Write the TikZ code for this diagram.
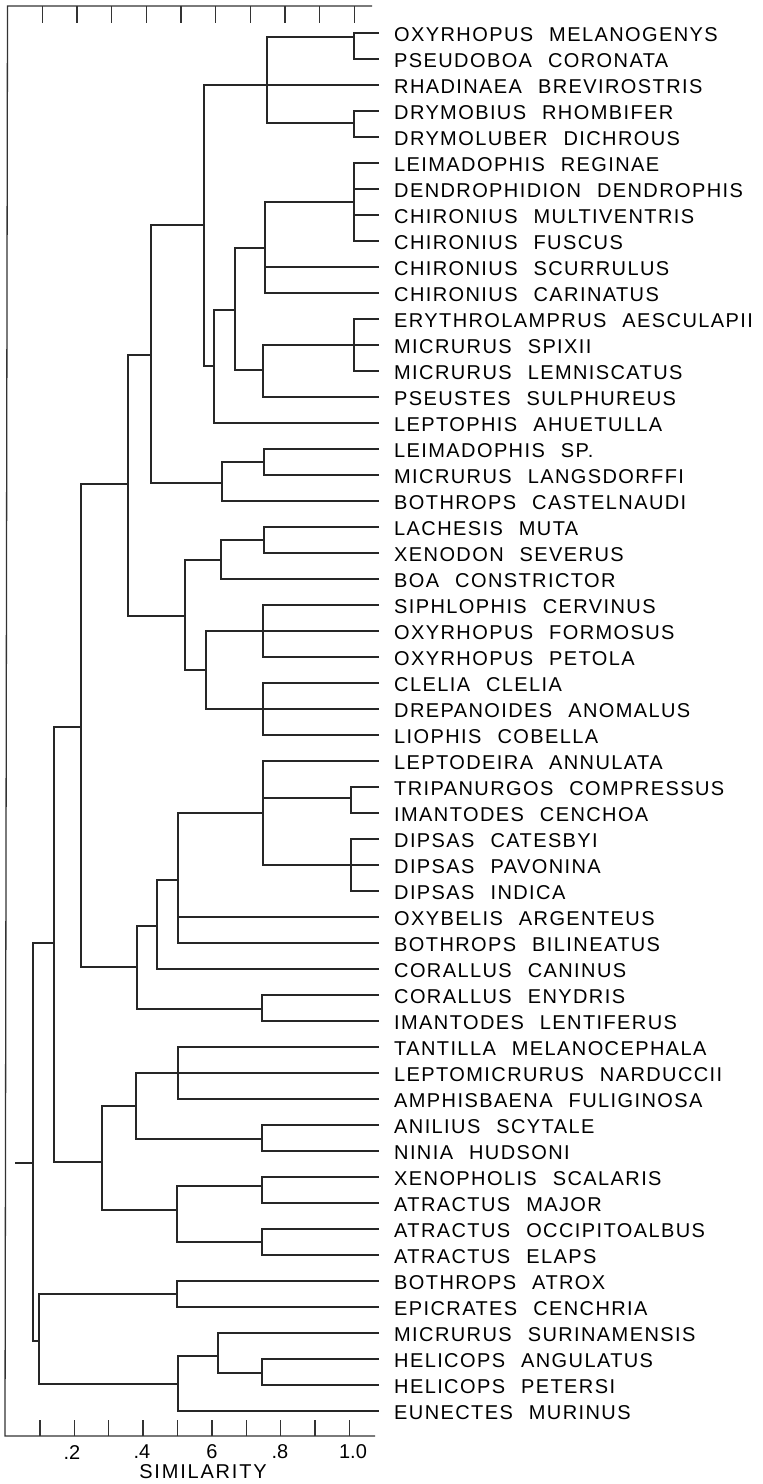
\documentclass[tikz,border=0pt]{standalone}
\usepackage{fontspec}
\setmainfont{Liberation Sans}
\usetikzlibrary{positioning}
\newcommand{\leaffont}{\fontsize{20}{24}\selectfont\addfontfeature{LetterSpace=7}\spaceskip 0.8em\relax}
\newcommand{\axfont}{\fontsize{20}{24}\selectfont}

\begin{document}
\begin{tikzpicture}[
    x=1pt, y=-1pt,
    node distance=15pt,
    branch/.style={line width=1.3pt, draw=black!85},
    axisline/.style={line width=1.3pt, draw=black!80},
    leaf/.style={inner sep=0pt, font=\leaffont, text=black},
    ticklab/.style={inner sep=0pt, font=\axfont, text=black}
]
    \useasboundingbox [fill=white] (0,0) rectangle (763,1484);

    \foreach \name [count=\i] in {OXYRHOPUS MELANOGENYS, PSEUDOBOA CORONATA, RHADINAEA BREVIROSTRIS,
        DRYMOBIUS RHOMBIFER, DRYMOLUBER DICHROUS, LEIMADOPHIS REGINAE, DENDROPHIDION DENDROPHIS,
        CHIRONIUS MULTIVENTRIS, CHIRONIUS FUSCUS, CHIRONIUS SCURRULUS, CHIRONIUS CARINATUS,
        ERYTHROLAMPRUS AESCULAPII, MICRURUS SPIXII, MICRURUS LEMNISCATUS, PSEUSTES SULPHUREUS,
        LEPTOPHIS AHUETULLA, LEIMADOPHIS SP., MICRURUS LANGSDORFFI, BOTHROPS CASTELNAUDI,
        LACHESIS MUTA, XENODON SEVERUS, BOA CONSTRICTOR, SIPHLOPHIS CERVINUS, OXYRHOPUS FORMOSUS,
        OXYRHOPUS PETOLA, CLELIA CLELIA, DREPANOIDES ANOMALUS, LIOPHIS COBELLA,
        LEPTODEIRA ANNULATA, TRIPANURGOS COMPRESSUS, IMANTODES CENCHOA, DIPSAS CATESBYI,
        DIPSAS PAVONINA, DIPSAS INDICA, OXYBELIS ARGENTEUS, BOTHROPS BILINEATUS, CORALLUS CANINUS,
        CORALLUS ENYDRIS, IMANTODES LENTIFERUS, TANTILLA MELANOCEPHALA, LEPTOMICRURUS NARDUCCII,
        AMPHISBAENA FULIGINOSA, ANILIUS SCYTALE, NINIA HUDSONI, XENOPHOLIS SCALARIS, ATRACTUS MAJOR,
        ATRACTUS OCCIPITOALBUS, ATRACTUS ELAPS, BOTHROPS ATROX, EPICRATES CENCHRIA,
        MICRURUS SURINAMENSIS, HELICOPS ANGULATUS, HELICOPS PETERSI, EUNECTES MURINUS} {
        \coordinate (e\i) at (379, {33+(\i-1)*26});
        \node [leaf, right=15pt of e\i, yshift=-2pt] (l\i) {\name};
    }

    \coordinate (nA) at (354,37);
    \coordinate (nD) at (354,123);
    \coordinate (nB) at (267,85);
    \coordinate (nF) at (354,202);
    \coordinate (nG) at (265,248);
    \coordinate (nH) at (354,345);
    \coordinate (nI) at (263,370);
    \coordinate (nJ) at (235,310);
    \coordinate (nK) at (214,366);
    \coordinate (nC) at (204,225);
    \coordinate (nL) at (264,462);
    \coordinate (nM) at (222,483);
    \coordinate (nN) at (151,355);
    \coordinate (nO) at (264,540);
    \coordinate (nP) at (221,560);
    \coordinate (nQ) at (263,631);
    \coordinate (nR) at (263,709);
    \coordinate (nS) at (206,670);
    \coordinate (nT) at (185,616);
    \coordinate (nU) at (128,484);
    \coordinate (nV) at (351,798);
    \coordinate (nX) at (351,865);
    \coordinate (nW) at (263,813);
    \coordinate (nY) at (178,880);
    \coordinate (nZ) at (157,926);
    \coordinate (nAA) at (262,1009);
    \coordinate (nBB) at (137,967);
    \coordinate (nMM) at (81,727);
    \coordinate (nCC) at (178,1073);
    \coordinate (nAB) at (262,1139);
    \coordinate (nDD) at (136,1106);
    \coordinate (nEE) at (262,1186);
    \coordinate (nFF) at (262,1242);
    \coordinate (nGG) at (177,1210);
    \coordinate (nHH) at (102,1162);
    \coordinate (nII) at (54,943);
    \coordinate (nJJ) at (177,1294);
    \coordinate (nNN) at (262,1373);
    \coordinate (nOO) at (218,1356);
    \coordinate (nPP) at (178,1384);
    \coordinate (nKK) at (39,1341);
    \coordinate (root) at (33,1163);
    \coordinate (stub) at (15,1163);

    \draw [branch] (nA) |- (e1) (nA) |- (e2);
    \draw [branch] (nD) |- (e4) (nD) |- (e5);
    \draw [branch] (nB) |- (nA) (nB) |- (e3) (nB) |- (nD);
    \draw [branch] (nF) |- (e6) (nF) |- (e7) (nF) |- (e8) (nF) |- (e9);
    \draw [branch] (nG) |- (nF) (nG) |- (e10) (nG) |- (e11);
    \draw [branch] (nH) |- (e12) (nH) |- (e13) (nH) |- (e14);
    \draw [branch] (nI) |- (nH) (nI) |- (e15);
    \draw [branch] (nJ) |- (nG) (nJ) |- (nI);
    \draw [branch] (nK) |- (nJ) (nK) |- (e16);
    \draw [branch] (nC) |- (nB) (nC) |- (nK);
    \draw [branch] (nL) |- (e17) (nL) |- (e18);
    \draw [branch] (nM) |- (nL) (nM) |- (e19);
    \draw [branch] (nN) |- (nC) (nN) |- (nM);
    \draw [branch] (nO) |- (e20) (nO) |- (e21);
    \draw [branch] (nP) |- (nO) (nP) |- (e22);
    \draw [branch] (nQ) |- (e23) (nQ) |- (e24) (nQ) |- (e25);
    \draw [branch] (nR) |- (e26) (nR) |- (e27) (nR) |- (e28);
    \draw [branch] (nS) |- (nQ) (nS) |- (nR);
    \draw [branch] (nT) |- (nP) (nT) |- (nS);
    \draw [branch] (nU) |- (nN) (nU) |- (nT);
    \draw [branch] (nV) |- (e30) (nV) |- (e31);
    \draw [branch] (nX) |- (e32) (nX) |- (e33) (nX) |- (e34);
    \draw [branch] (nW) |- (e29) (nW) |- (nV) (nW) |- (nX);
    \draw [branch] (nY) |- (nW) (nY) |- (e35) (nY) |- (e36);
    \draw [branch] (nZ) |- (nY) (nZ) |- (e37);
    \draw [branch] (nAA) |- (e38) (nAA) |- (e39);
    \draw [branch] (nBB) |- (nZ) (nBB) |- (nAA);
    \draw [branch] (nMM) |- (nU) (nMM) |- (nBB);
    \draw [branch] (nCC) |- (e40) (nCC) |- (e41) (nCC) |- (e42);
    \draw [branch] (nAB) |- (e43) (nAB) |- (e44);
    \draw [branch] (nDD) |- (nCC) (nDD) |- (nAB);
    \draw [branch] (nEE) |- (e45) (nEE) |- (e46);
    \draw [branch] (nFF) |- (e47) (nFF) |- (e48);
    \draw [branch] (nGG) |- (nEE) (nGG) |- (nFF);
    \draw [branch] (nHH) |- (nDD) (nHH) |- (nGG);
    \draw [branch] (nII) |- (nMM) (nII) |- (nHH);
    \draw [branch] (nJJ) |- (e49) (nJJ) |- (e50);
    \draw [branch] (nNN) |- (e52) (nNN) |- (e53);
    \draw [branch] (nOO) |- (e51) (nOO) |- (nNN);
    \draw [branch] (nPP) |- (nOO) (nPP) |- (e54);
    \draw [branch] (nKK) |- (nJJ) (nKK) |- (nPP);
    \draw [branch] (stub) -- (root) |- (nII) (root) |- (nKK);

    \draw [axisline] (372,6) -- (7.5,6) -- (5,1436) -- (375,1436);
    \foreach \k in {1,...,10} {
        \draw [axisline] ({7.5+34.7*\k},6) -- ++(0,17);
        \draw [axisline] ({5.5+34.4*\k},1436) -- ++(0,-16);
    }

    \node [ticklab] (t2) at (72,1452) {.2};
    \node [ticklab] (t4) at (142,1452) {.4};
    \node [ticklab] (t6) at (212,1452) {6};
    \node [ticklab] (t8) at (280,1452) {.8};
    \node [ticklab] (t10) at (353,1452) {1.0};
    \node [ticklab, font=\axfont\addfontfeature{LetterSpace=9}] (axlab) at (203,1472) {SIMILARITY};
\end{tikzpicture}
\end{document}
